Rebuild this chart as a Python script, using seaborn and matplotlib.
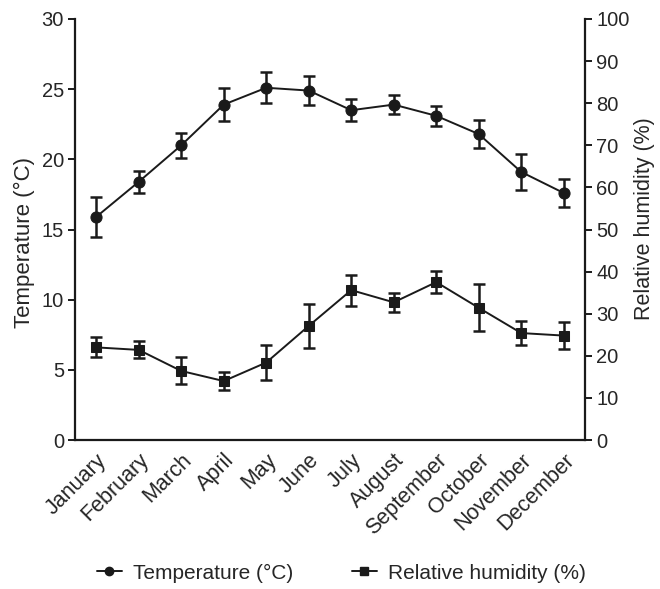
"""
monthly temperature and relative humidity
mean +/- error, two y axes
"""

import seaborn as sns
import matplotlib.pyplot as plt
from matplotlib.lines import Line2D

months = ["January", "February", "March", "April", "May", "June", "July",
          "August", "September", "October", "November", "December"]
temp = [15.9, 18.4, 21.0, 23.9, 25.1, 24.9, 23.5, 23.9, 23.1, 21.8, 19.1, 17.6]
temp_err = [1.4, 0.8, 0.9, 1.2, 1.1, 1.05, 0.8, 0.7, 0.7, 1.0, 1.25, 1.0]
hum = [22.0, 21.4, 16.4, 14.0, 18.4, 27.1, 35.6, 32.7, 37.5, 31.4, 25.4, 24.8]
hum_err = [2.4, 2.0, 3.2, 2.1, 4.1, 5.2, 3.7, 2.3, 2.6, 5.6, 2.8, 3.2]

sns.set_style("white")
plt.rcParams['font.family'] = ['Liberation Sans', 'DejaVu Sans']
ink = "#1a1a1a"
txt = "#262626"

fig = plt.figure(figsize=(6.6, 5.89), dpi=100)
ax = fig.add_axes([75 / 660, 1 - 440 / 589, 510 / 660, 421 / 589])
ax2 = ax.twinx()

x = list(range(len(months)))

# temperature on the left axis
ax.errorbar(x, temp, yerr=temp_err, fmt="none", ecolor=ink,
            elinewidth=1.8, capsize=4, capthick=1.8, zorder=3)
sns.lineplot(x=x, y=temp, ax=ax, color=ink, marker="o", markersize=8,
             markeredgecolor=ink, linewidth=1.4, zorder=4)

# humidity on the right axis
ax2.errorbar(x, hum, yerr=hum_err, fmt="none", ecolor=ink,
             elinewidth=1.8, capsize=4, capthick=1.8, zorder=3)
sns.lineplot(x=x, y=hum, ax=ax2, color=ink, marker="s", markersize=7.5,
             markeredgecolor=ink, linewidth=1.4, zorder=4)

ax.set_xlim(-0.5, 11.5)
ax.set_ylim(0, 30)
ax2.set_ylim(0, 100)
ax.set_yticks([0, 5, 10, 15, 20, 25, 30])
ax2.set_yticks(range(0, 101, 10))
ax.set_xticks(x)
ax.set_xticklabels(months, rotation=45, ha="right", rotation_mode="anchor")

for a in (ax, ax2):
    a.tick_params(direction="out", length=5, width=1.4, color=ink,
                  labelsize=14.5, labelcolor=txt, pad=3)
    for s in a.spines.values():
        s.set_color(ink)
        s.set_linewidth(1.6)
    a.spines["top"].set_visible(False)
    a.set_facecolor("none")
ax.spines["right"].set_visible(False)
ax2.spines["left"].set_visible(False)
ax2.spines["bottom"].set_visible(False)
ax.tick_params(axis="x", labelsize=15.5, pad=2)

ax.set_ylabel("Temperature (°C)", fontsize=16, color=txt)
ax2.set_ylabel("Relative humidity (%)", fontsize=15.5, color=txt)
ax.yaxis.set_label_coords(-0.078, 0.468)
ax2.yaxis.set_label_coords(1.096, 0.527)
ax.set_xlabel("")

handles = [
    Line2D([], [], color=ink, marker="o", markersize=6, linewidth=1.4),
    Line2D([], [], color=ink, marker="s", markersize=6, linewidth=1.4),
]
fig.legend(handles, ["Temperature (°C)", "Relative humidity (%)"],
           loc="center", bbox_to_anchor=(0.517, 0.027), ncol=2,
           frameon=False, fontsize=15, labelcolor=txt, handlelength=1.2,
           columnspacing=2.8, handletextpad=0.55)

fig.savefig("out.png", dpi=100)
